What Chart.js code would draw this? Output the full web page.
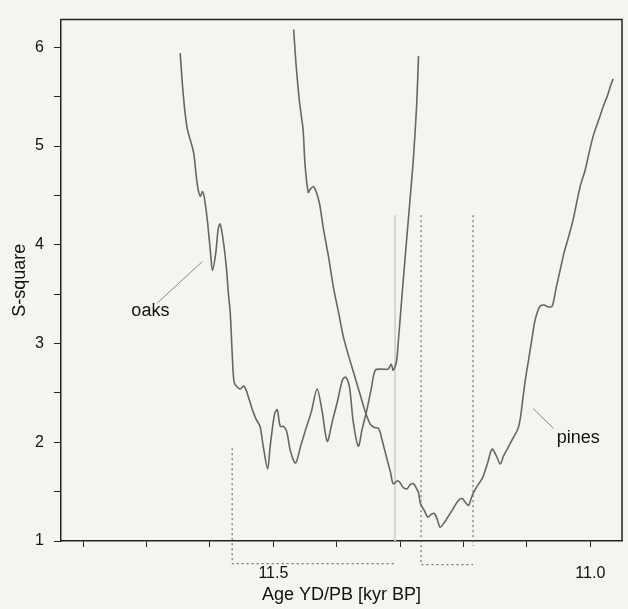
<!DOCTYPE html>
<html>
<head>
<meta charset="utf-8">
<title>S-square</title>
<script src="https://cdn.jsdelivr.net/npm/chart.js@4.4.0/dist/chart.umd.min.js"></script>
<style>
  html, body { margin: 0; padding: 0; background: #f4f4f1; }
  #wrap { width: 628px; height: 609px; position: relative; }
</style>
</head>
<body>
<div id="wrap"><canvas id="sChart"></canvas></div>
<script>
// Oaks curve: age (kyr BP) and S-square
const oaksAge = [11.647, 11.642, 11.636, 11.626, 11.621, 11.618, 11.615, 11.612, 11.609, 11.604,
  11.599, 11.596, 11.591, 11.587, 11.584, 11.579, 11.574, 11.571, 11.568, 11.565,
  11.562, 11.557, 11.552, 11.547, 11.543, 11.538, 11.532, 11.527, 11.521, 11.516,
  11.509, 11.505, 11.498, 11.494, 11.489, 11.484, 11.479, 11.473, 11.465, 11.457,
  11.450, 11.440, 11.431, 11.423, 11.415, 11.407, 11.399, 11.391, 11.386, 11.380,
  11.374, 11.366, 11.360, 11.352, 11.345, 11.339, 11.327, 11.319, 11.314, 11.311,
  11.306, 11.303, 11.298, 11.292, 11.285, 11.279, 11.274, 11.271];
const oaksS = [5.94, 5.51, 5.18, 4.94, 4.66, 4.54, 4.49, 4.54, 4.48, 4.24,
  3.91, 3.74, 3.91, 4.16, 4.21, 4.04, 3.76, 3.51, 3.31, 2.91,
  2.61, 2.56, 2.54, 2.57, 2.53, 2.43, 2.31, 2.23, 2.16, 1.96,
  1.73, 1.96, 2.29, 2.33, 2.16, 2.16, 2.11, 1.91, 1.79, 1.96,
  2.11, 2.31, 2.54, 2.31, 2.01, 2.21, 2.41, 2.63, 2.66, 2.56,
  2.21, 1.96, 2.13, 2.34, 2.56, 2.73, 2.74, 2.74, 2.79, 2.73,
  2.81, 3.01, 3.41, 3.88, 4.41, 4.88, 5.41, 5.91];

// Pines curve
const pinesAge = [11.468, 11.464, 11.459, 11.456, 11.453, 11.450, 11.445, 11.442, 11.437, 11.432,
  11.427, 11.421, 11.413, 11.405, 11.397, 11.390, 11.382, 11.375, 11.369, 11.363,
  11.355, 11.347, 11.341, 11.334, 11.328, 11.322, 11.315, 11.311, 11.304, 11.300,
  11.295, 11.289, 11.284, 11.279, 11.274, 11.271, 11.268, 11.262, 11.256, 11.251,
  11.246, 11.241, 11.237, 11.230, 11.226, 11.218, 11.208, 11.202, 11.197, 11.192,
  11.188, 11.185, 11.178, 11.170, 11.162, 11.155, 11.148, 11.142, 11.137, 11.131,
  11.123, 11.114, 11.110, 11.107, 11.103, 11.098, 11.093, 11.088, 11.084, 11.079,
  11.073, 11.066, 11.060, 11.054, 11.047, 11.041, 11.036, 11.028, 11.022, 11.016,
  11.008, 11.002, 10.995, 10.987, 10.979, 10.973, 10.968, 10.964];
const pinesS = [6.18, 5.81, 5.46, 5.31, 5.16, 4.81, 4.53, 4.56, 4.59, 4.53,
  4.41, 4.16, 3.88, 3.56, 3.31, 3.08, 2.89, 2.74, 2.61, 2.48,
  2.31, 2.18, 2.15, 2.14, 2.01, 1.86, 1.69, 1.58, 1.61, 1.59,
  1.54, 1.53, 1.57, 1.58, 1.53, 1.49, 1.38, 1.31, 1.24, 1.27,
  1.28, 1.21, 1.14, 1.19, 1.23, 1.31, 1.41, 1.43, 1.39, 1.36,
  1.43, 1.48, 1.56, 1.64, 1.79, 1.93, 1.86, 1.78, 1.86, 1.93,
  2.03, 2.14, 2.26, 2.41, 2.61, 2.81, 3.01, 3.21, 3.31, 3.38,
  3.39, 3.37, 3.38, 3.56, 3.76, 3.93, 4.04, 4.23, 4.41, 4.59,
  4.76, 4.93, 5.11, 5.26, 5.41, 5.51, 5.61, 5.68];

// Age windows of best fit (oaks / pines)
const oaksWindow = [11.565, 11.308];
const pinesWindow = [11.267, 11.185];

// Axis ticks
const xTicks = [11.8, 11.7, 11.6, 11.5, 11.4, 11.3, 11.2, 11.1, 11.0];
const xLabels = ['11.5', '11.0'];
const yTicks = [1, 1.5, 2, 2.5, 3, 3.5, 4, 4.5, 5, 5.5, 6];
const yLabels = ['1', '2', '3', '4', '5', '6'];

const pts = (xs, ys) => xs.map((v, i) => ({ x: v, y: ys[i] }));

const curveStyle = {
    borderColor: '#666',
    borderWidth: 1.6,
    pointRadius: 0,
    tension: 0.3,
    fill: false
};
const dotted = {
    borderColor: '#555',
    borderWidth: 1,
    borderDash: [2, 3],
    pointRadius: 0,
    fill: false,
    clip: false
};
const pointer = {
    borderColor: '#8a8a8a',
    borderWidth: 1,
    pointRadius: 0,
    fill: false
};

// Curve names written next to their pointer lines
const curveNames = [
    { text: 'oaks', x: 11.694, y: 3.33 },
    { text: 'pines', x: 11.019, y: 2.04 }
];

const curveLabels = {
    id: 'curveLabels',
    afterDatasetsDraw(chart) {
        const { ctx, scales: { x, y } } = chart;
        ctx.save();
        ctx.font = '18px "Liberation Sans", Arial, sans-serif';
        ctx.fillStyle = '#111';
        ctx.textAlign = 'center';
        ctx.textBaseline = 'middle';
        curveNames.forEach(n => {
            ctx.fillText(n.text, x.getPixelForValue(n.x), y.getPixelForValue(n.y));
        });
        ctx.restore();
    }
};

// top and right edges of the box
const frame = {
    id: 'frame',
    afterDraw(chart) {
        const { ctx, chartArea: a } = chart;
        ctx.save();
        ctx.strokeStyle = '#222';
        ctx.lineWidth = 1.5;
        ctx.beginPath();
        ctx.moveTo(a.left, a.top);
        ctx.lineTo(a.right, a.top);
        ctx.lineTo(a.right, a.bottom);
        ctx.stroke();
        ctx.restore();
    }
};

const tickFont = { family: '"Liberation Sans", Arial, sans-serif', size: 16 };
const titleFont = { family: '"Liberation Sans", Arial, sans-serif', size: 18 };

new Chart(document.getElementById('sChart'), {
    type: 'line',
    data: {
        datasets: [
            { ...curveStyle, label: 'oaks', data: pts(oaksAge, oaksS) },
            { ...curveStyle, label: 'pines', data: pts(pinesAge, pinesS) },
            // oaks window
            { ...dotted, data: [{ x: oaksWindow[0], y: 1.94 }, { x: oaksWindow[0], y: 0.77 }, { x: oaksWindow[1], y: 0.77 }] },
            { ...pointer, borderColor: '#d2d2d0', clip: false, data: [{ x: oaksWindow[1], y: 4.3 }, { x: oaksWindow[1], y: 1.0 }] },
            // pines window
            { ...dotted, data: [{ x: pinesWindow[0], y: 4.3 }, { x: pinesWindow[0], y: 0.76 }, { x: pinesWindow[1], y: 0.76 }] },
            { ...dotted, data: [{ x: pinesWindow[1], y: 4.3 }, { x: pinesWindow[1], y: 0.95 }] },
            // label pointers
            { ...pointer, data: [{ x: 11.683, y: 3.41 }, { x: 11.612, y: 3.83 }] },
            { ...pointer, data: [{ x: 11.090, y: 2.34 }, { x: 11.058, y: 2.14 }] }
        ]
    },
    options: {
        responsive: true,
        maintainAspectRatio: false,
        animation: false,
        layout: { padding: { top: 13, right: 6, left: 0, bottom: 0 } },
        plugins: { legend: { display: false }, tooltip: { enabled: false } },
        scales: {
            x: {
                type: 'linear',
                reverse: true,
                min: 10.95,
                max: 11.835,
                afterBuildTicks: s => { s.ticks = xTicks.map(v => ({ value: v })); },
                afterFit: s => { s.height = 68; },
                border: { color: '#222', width: 1.5 },
                grid: { drawOnChartArea: false, drawTicks: true, tickLength: 6, color: '#222' },
                ticks: {
                    padding: 17,
                    color: '#111',
                    font: tickFont,
                    maxRotation: 0,
                    callback: v => {
                        const t = v.toFixed(1);
                        return xLabels.includes(t) ? t : '';
                    }
                },
                title: {
                    display: true,
                    text: 'Age YD/PB [kyr BP]',
                    color: '#111',
                    font: titleFont,
                    padding: { top: 0, bottom: 3 }
                }
            },
            y: {
                min: 1,
                max: 6.28,
                afterBuildTicks: s => { s.ticks = yTicks.map(v => ({ value: v })); },
                afterFit: s => { s.width = 61; },
                border: { color: '#222', width: 1.5 },
                grid: { drawOnChartArea: false, drawTicks: true, tickLength: 7, color: '#222' },
                ticks: {
                    padding: 10,
                    color: '#111',
                    font: tickFont,
                    callback: v => {
                        const t = String(v);
                        return yLabels.includes(t) ? t : '';
                    }
                },
                title: {
                    display: true,
                    text: 'S-square',
                    color: '#111',
                    font: titleFont,
                    padding: { top: 9, bottom: 0 }
                }
            }
        }
    },
    plugins: [curveLabels, frame]
});
</script>
</body>
</html>
